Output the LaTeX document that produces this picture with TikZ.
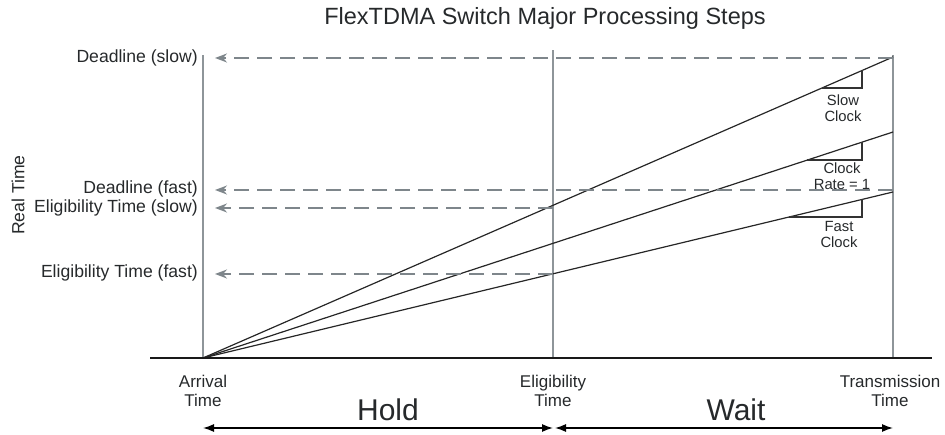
\documentclass[tikz,border=0pt]{standalone}
\usepackage{fontspec}
\setmainfont{Liberation Sans}
\usetikzlibrary{arrows.meta}
\definecolor{txt}{HTML}{26292B}
\definecolor{guide}{HTML}{8E9599}
\definecolor{dash}{HTML}{7E868B}
\begin{document}
\begin{tikzpicture}[x=1pt,y=-1pt,
  lbl/.style={text=txt,font=\fontsize{17.6}{19}\selectfont,inner sep=0pt},
  axlbl/.style={text=txt,font=\fontsize{17}{19}\selectfont,inner sep=0pt,align=center},
  small/.style={text=txt,font=\fontsize{14.8}{16}\selectfont,inner sep=0pt,align=center},
  big/.style={text=txt,font=\fontsize{30}{34}\selectfont,inner sep=0pt},
  guideline/.style={draw=guide,line width=1.5pt},
  rateline/.style={draw=black!85,line width=1.2pt},
  dashedref/.style={draw=dash,line width=1.7pt,dash pattern=on 15pt off 8pt,
     -{Stealth[length=12pt,width=9pt]}},
  span/.style={draw=black,line width=1.3pt,{Latex[length=11pt,width=8pt]}-{Latex[length=11pt,width=8pt]}},
  slope/.style={draw=black!80,line width=1.1pt}]
\useasboundingbox (0,0) rectangle (945,435);

% title
\node[text=txt,font=\fontsize{23.5}{26}\selectfont,inner sep=0pt] (title) at (545,18) {FlexTDMA Switch Major Processing Steps};

% time axis positions
\coordinate (arr) at (203,358);
\coordinate (elig) at (553,358);
\coordinate (tx) at (893,358);
\coordinate (axL) at (150,358);
\coordinate (axR) at (932,358);

% vertical guides
\draw[guideline] (arr) -- (203,55);
\draw[guideline] (elig) -- (553,50);
\draw[guideline] (tx) -- (893,55);

% clock-rate lines
\coordinate (endSlow) at (893,57);
\coordinate (endUnit) at (893,132);
\coordinate (endFast) at (893,192);
\draw[rateline] (arr) -- (endSlow);
\draw[rateline] (arr) -- (endUnit);
\draw[rateline] (arr) -- (endFast);

% slope triangles
\draw[slope] (822,88) -- (862,88) -- (862,70.5);
\draw[slope] (807,160) -- (862,160) -- (862,142);
\draw[slope] (789,217) -- (862,217) -- (862,199.5);
\node[small] (slowclk) at (843,108) {Slow\\Clock};
\node[small] (unitclk) at (842,176) {Clock\\Rate = 1};
\node[small] (fastclk) at (839,234) {Fast\\Clock};

% real time labels
\node[lbl,anchor=east] (dslow) at (198,58) {Deadline (slow)};
\node[lbl,anchor=east] (dfast) at (198,189) {Deadline (fast)};
\node[lbl,anchor=east] (eslow) at (198,208) {Eligibility Time (slow)};
\node[lbl,anchor=east] (efast) at (198,273) {Eligibility Time (fast)};
\node[lbl,rotate=90] (realtime) at (18,195) {Real Time};

% projections onto the real time axis
\coordinate (pSlowD) at (893,58);
\coordinate (pFastD) at (893,190);
\coordinate (pSlowE) at (553,208);
\coordinate (pFastE) at (553,274);
\draw[dashedref] (pSlowD) -- (215,58);
\draw[dashedref] (pFastD) -- (215,190);
\draw[dashedref] (pSlowE) -- (215,208);
\draw[dashedref] (pFastE) -- (215,274);

% time axis
\draw[draw=black!90,line width=2.4pt] (axL) -- (axR);

\node[axlbl] (arrlbl) at (203,391) {Arrival\\Time};
\node[axlbl] (elilbl) at (553,391) {Eligibility\\Time};
\node[axlbl] (txlbl) at (890,391) {Transmission\\Time};

% phases
\node[big] (hold) at (388,410) {Hold};
\node[big] (wait) at (736,410) {Wait};
\coordinate (h0) at (203,428);
\coordinate (h1) at (553,428);
\coordinate (w0) at (555,428);
\coordinate (w1) at (893,428);
\draw[span] (h0) -- (h1);
\draw[span] (w0) -- (w1);
\end{tikzpicture}
\end{document}
